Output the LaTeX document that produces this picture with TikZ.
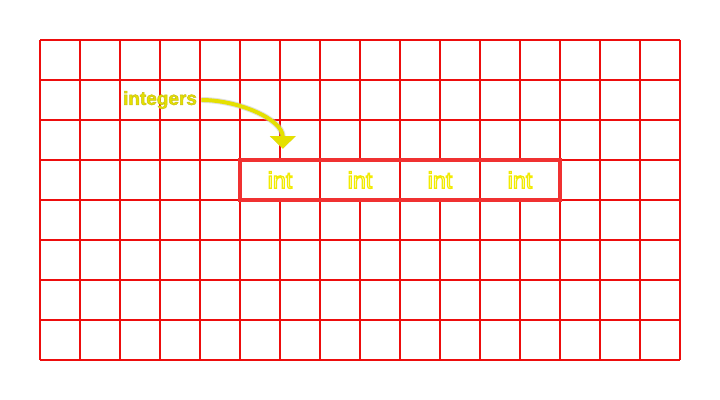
\documentclass[tikz,border=0pt]{standalone}
\usepackage{fontspec}
\setmainfont{Liberation Sans}
\usetikzlibrary{arrows.meta,positioning}
\definecolor{gridred}{rgb}{.93,.05,.05}
\definecolor{labelyellow}{rgb}{.9,.88,0}
% filled letters with a stroked rim (text render mode 2)
\newcommand{\rimtext}[4]{{\color{#1}\special{pdf:literal direct #2 RG #3 w 2 Tr}#4\special{pdf:literal direct 0 Tr}}}

\begin{document}
\begin{tikzpicture}[% styles for the whole picture
	every node/.style={
		align=center,
		inner sep=0pt
		},
	gridline/.style={draw=gridred,line width=1.3pt},
	intcell/.style={rectangle,draw=gridred,line width=1.3pt,fill=white,outer sep=0pt,
		minimum width=2cm,minimum height=1cm,font=\fontsize{16.5}{18}\selectfont},
	pointer/.style={draw=labelyellow,line width=2.8pt,
		-{Triangle[width=18pt,length=9pt]},shorten >=8pt,shorten <=3pt}
	]
	\useasboundingbox (0,0) rectangle (18,10);
	\draw[gridline] (1,1) grid (17,9);
	% the four integers
	\node[intcell](I1) at (7,5.5){\rimtext{white}{0.95 0.92 0}{0.9}{int}};
	\node[intcell](I2)[right=0pt of I1]{\rimtext{white}{0.95 0.92 0}{0.9}{int}};
	\node[intcell](I3)[right=0pt of I2]{\rimtext{white}{0.95 0.92 0}{0.9}{int}};
	\node[intcell](I4)[right=0pt of I3]{\rimtext{white}{0.95 0.92 0}{0.9}{int}};
	\draw[draw=gridred!85,line width=2.6pt] (I1.north west) rectangle (I4.south east);
	\node[font=\bfseries\fontsize{13.5}{15}\selectfont](L1) at (4,7.5){\rimtext{labelyellow}{0.78 0.75 0.1}{0.35}{integers}};
	\draw[pointer,draw=black!25,line width=4.2pt,opacity=.5] (L1.east) to[out=0,in=90] ([xshift=2pt]I1.north);
	\draw[pointer] (L1.east) to[out=0,in=90] ([xshift=2pt]I1.north);
\end{tikzpicture}
\end{document}
